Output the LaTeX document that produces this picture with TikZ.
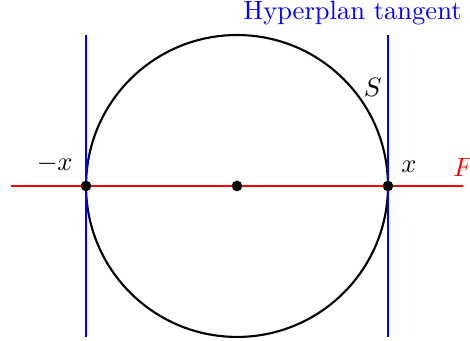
\documentclass[tikz,border=0pt]{standalone}
\usepackage{tikz}
\usetikzlibrary{positioning}

\begin{document}
\begin{tikzpicture}[
  dot/.style={circle, fill=black, inner sep=0pt, minimum size=4pt},
  axisline/.style={red, thick},
  tangentline/.style={blue, thick},
  sphere/.style={thick}
]
\useasboundingbox (-3.14,-2.053) rectangle (3.087,2.464);

\coordinate (c) at (0,0);
\coordinate (fl) at (-3,0);
\coordinate (fr) at (3,0);
\coordinate (tlt) at (-2,2);
\coordinate (tlb) at (-2,-2);
\coordinate (trt) at (2,2);
\coordinate (trb) at (2,-2);

\draw[axisline] (fl) -- (fr);
\draw[sphere] (c) circle (2);
\draw[tangentline] (tlt) -- (tlb);
\draw[tangentline] (trt) -- (trb);

\node[dot] (o) at (c) {};
\node[dot] (xp) at (2,0) {};
\node[dot] (xm) at (-2,0) {};

\node[above right=0pt and 0pt of xp] (xplab) {$x$};
\node[above left=0pt and 0pt of xm] (xmlab) {$-x$};
\node[red, above] (flab) at (fr) {$F$};
\node (slab) at (1.8,1.3) {$S$};
\node[blue, anchor=base east] (hlab) at (3.1,2.21) {Hyperplan tangent};

\end{tikzpicture}
\end{document}
